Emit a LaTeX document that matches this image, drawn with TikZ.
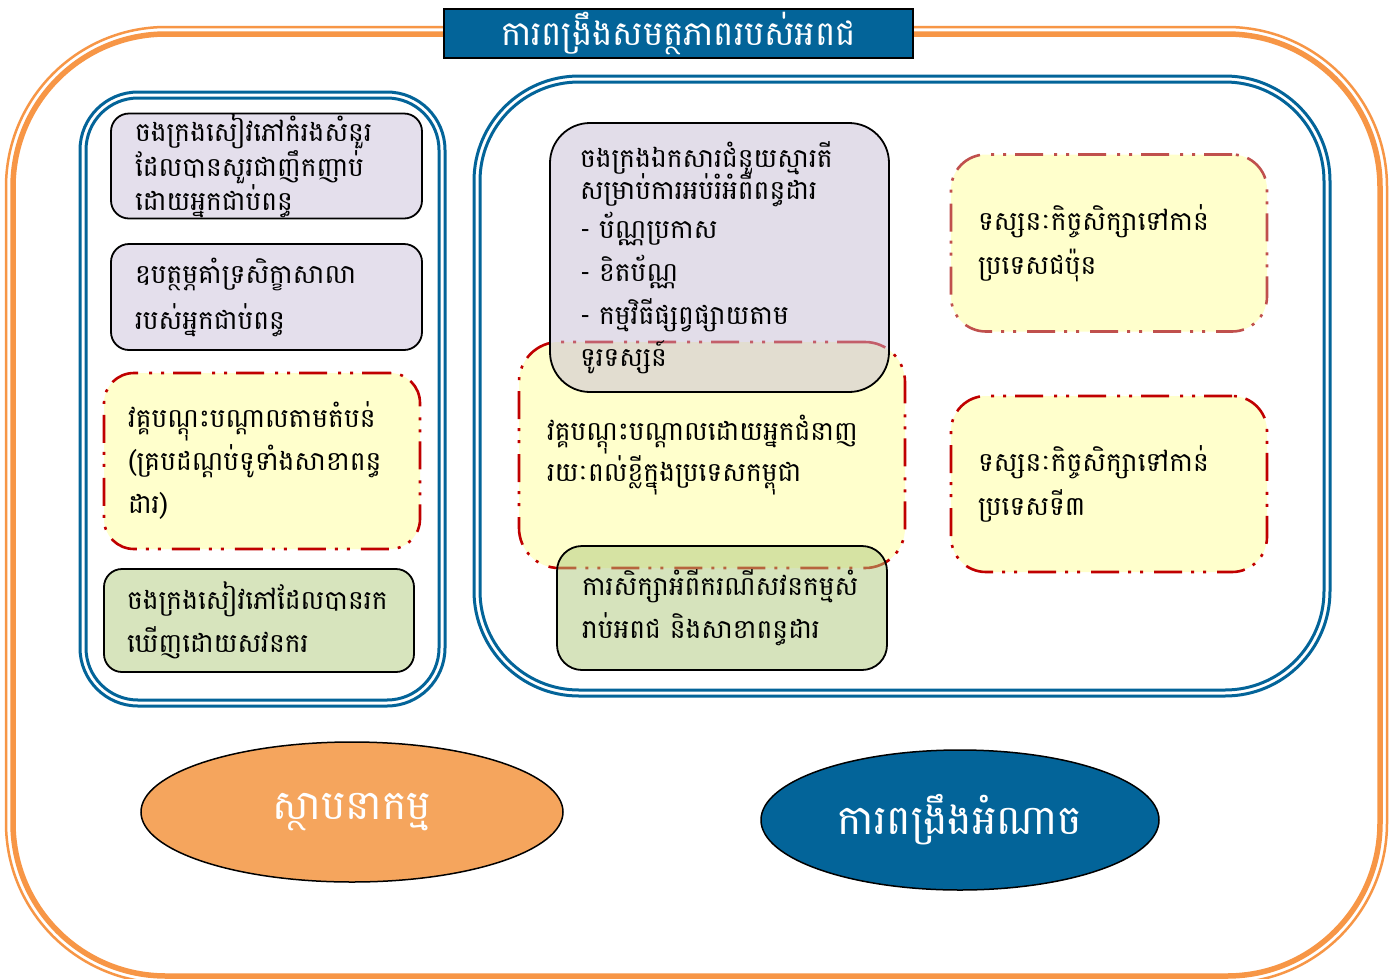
\documentclass[tikz,border=0pt]{standalone}
\usepackage{fontspec}
\newfontfamily\khmer[Script=Khmer]{Battambang}
\usetikzlibrary{shapes.geometric}
\setlength{\lineskiplimit}{-100pt}
\definecolor{orangeline}{HTML}{F79646}
\definecolor{orangefill}{HTML}{F5A55D}
\definecolor{bluedark}{HTML}{036499}
\definecolor{lavender}{HTML}{E4DFEC}
\definecolor{lavendertr}{HTML}{C7BDD5}
\definecolor{greenbox}{HTML}{D7E4BD}
\definecolor{greentr}{HTML}{AFC97B}
\definecolor{yellowbox}{HTML}{FFFFCC}
\definecolor{reddark}{HTML}{C00000}
\definecolor{redlight}{HTML}{C0504D}
\begin{document}
\begin{tikzpicture}[x=1pt,y=-1pt,
  boxtext/.style={align=left, font=\khmer\fontsize{26.5}{29}\selectfont, text=black, inner ysep=0pt},
  lead/.style={font=\khmer\fontsize{26.5}{#1}\selectfont},
  solidbox/.style={boxtext, draw=black, line width=1.8pt},
  lavbox/.style={solidbox, fill=lavender, rounded corners=18pt},
  greenbx/.style={solidbox, fill=greenbox, rounded corners=18pt},
  ddline/.style={dash pattern=on 28pt off 9pt on 3pt off 9pt on 3pt off 11pt, line width=2.6pt},
  yelbox/.style={boxtext, fill=yellowbox, ddline, draw=reddark, rounded corners=30pt},
  bigtext/.style={font=\khmer\fontsize{41}{46}\selectfont, text=white},
  bluefr/.style={draw=bluedark, line width=3pt}
]
\useasboundingbox (0,0) rectangle (1393,978);
\fill[white] (0,0) rectangle (1393,978);

% outer orange frame
\draw[orangeline, line width=2.5pt, rounded corners=160pt] (6,27) rectangle (1387,983);
\draw[orangeline, line width=5.5pt, rounded corners=153pt] (13,34) rectangle (1380,976);

% title
\node[draw=black, line width=1.5pt, fill=bluedark, minimum width=469pt, minimum height=49pt,
  inner sep=0pt, font=\khmer\fontsize{34}{38}\selectfont, text=white] (title) at (678.5,33.5) {ការពង្រឹងសមត្ថភាពរបស់អពជ};

% left blue frame
\draw[bluefr, rounded corners=58pt] (80,92) rectangle (445,706);
\draw[bluefr, rounded corners=52pt] (86,98) rectangle (439,700);
% right blue frame
\draw[bluefr, rounded corners=105pt] (474,76) rectangle (1330,696);
\draw[bluefr, rounded corners=99pt] (480,82) rectangle (1324,690);

% left column boxes
\node[lavbox, lead=29, minimum width=311pt, minimum height=105pt, text width=263pt, inner xsep=24pt] (b1) at (266.5,166)
  {ចងក្រងសៀវភៅកំរងសំនួរ\\ដែលបានសួរជាញឹកញាប់\\ដោយអ្នកជាប់ពន្ធ};
\node[lavbox, lead=46, minimum width=311pt, minimum height=106pt, text width=263pt, inner xsep=24pt] (b2) at (266.5,297)
  {ឧបត្ថម្ភគាំទ្រសិក្ខាសាលា\\របស់អ្នកជាប់ពន្ធ};
\node[yelbox, lead=43, minimum width=316pt, minimum height=176pt, text width=268pt, inner xsep=24pt] (b3) at (262,461)
  {វគ្គបណ្តុះបណ្តាលតាមតំបន់\\(គ្របដណ្តប់ទូទាំងសាខាពន្ធ\\ដារ)};
\node[greenbx, lead=43, minimum width=310pt, minimum height=103pt, text width=264pt, inner xsep=23pt] (b4) at (259,620.5)
  {ចងក្រងសៀវភៅដែលបានរក\\ឃើញដោយសវនករ};

% middle group
\node[yelbox, lead=30, rounded corners=40pt, minimum width=386pt, minimum height=226pt, text width=330pt, inner xsep=28pt] (b6) at (712,455)
  {វគ្គបណ្តុះបណ្តាលដោយអ្នកជំនាញ\\រយៈពល់ខ្លីក្នុងប្រទេសកម្ពុជា};
\node[solidbox, lead=43, fill=lavendertr, fill opacity=0.5, text opacity=1, rounded corners=40pt,
  minimum width=339pt, minimum height=269pt, text width=279pt, inner xsep=30pt] (b5) at (719.5,257.5)
  {ចងក្រងឯកសារជំនួយស្មារតី\\[-11pt]សម្រាប់ការអប់រំអំពីពន្ធដារ\\[-4pt]- ប័ណ្ណប្រកាស\\- ខិតប័ណ្ណ\\- កម្មវិធីផ្សព្វផ្សាយតាម\\[-1pt]ទូរទស្សន៍};
\node[solidbox, lead=43, fill=greentr, fill opacity=0.5, text opacity=1, rounded corners=25pt,
  minimum width=330pt, minimum height=124pt, text width=280pt, inner xsep=25pt] (b7) at (722,608)
  {ការសិក្សាអំពីករណីសវនកម្មសំ\\រាប់អពជ និងសាខាពន្ធដារ};

% right column boxes
\node[yelbox, lead=44, draw=redlight, rounded corners=35pt, minimum width=316pt, minimum height=177pt, text width=262pt, inner xsep=27pt] (b8) at (1109,243)
  {ទស្សនៈកិច្ចសិក្សាទៅកាន់\\ប្រទេសជប៉ុន};
\node[yelbox, lead=44, rounded corners=35pt, minimum width=316pt, minimum height=176pt, text width=262pt, inner xsep=27pt] (b9) at (1109,484)
  {ទស្សនៈកិច្ចសិក្សាទៅកាន់\\ប្រទេសទី៣};

% ellipses
\node[ellipse, draw=black, line width=1.5pt, fill=orangefill, minimum width=422pt, minimum height=140pt, inner sep=0pt, bigtext] (e1) at (352,812) {ស្ថាបនាកម្ម};
\node[ellipse, draw=black, line width=1.5pt, fill=bluedark, minimum width=398pt, minimum height=140pt, inner sep=0pt, bigtext] (e2) at (960,820) {ការពង្រឹងអំណាច};
\end{tikzpicture}
\end{document}
